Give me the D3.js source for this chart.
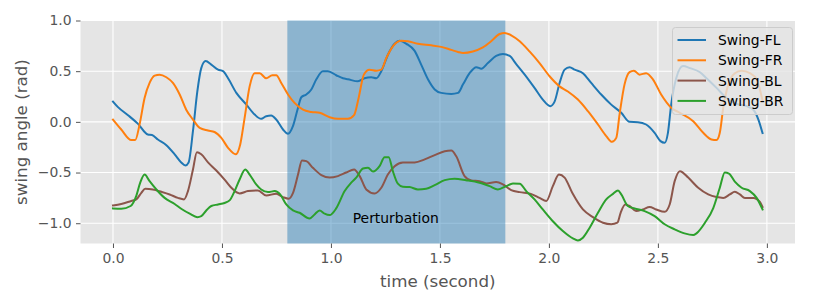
<!DOCTYPE html>
<html>
<head>
<meta charset="utf-8">
<script src="https://cdn.jsdelivr.net/npm/d3@7"></script>
<style>
  body { margin: 0; background: #fff; }
  svg { display: block; font-family: "DejaVu Sans", sans-serif; }
</style>
</head>
<body>
<svg id="chart" width="814" height="305"></svg>
<script>
// [time, angle] samples
var swingFL = [[0,0.20],[0.023,0.145],[0.069,0.066],[0.115,-0.02],[0.16,-0.125],[0.179,-0.13],[0.206,-0.174],[0.245,-0.23],[0.283,-0.32],[0.313,-0.40],[0.332,-0.43],[0.347,-0.40],[0.367,-0.09],[0.387,0.30],[0.405,0.53],[0.425,0.60],[0.451,0.565],[0.482,0.515],[0.505,0.50],[0.528,0.43],[0.566,0.286],[0.612,0.17],[0.65,0.072],[0.68,0.03],[0.703,0.056],[0.726,0.062],[0.749,0.023],[0.78,-0.075],[0.803,-0.118],[0.826,-0.04],[0.849,0.14],[0.864,0.243],[0.887,0.27],[0.91,0.32],[0.933,0.42],[0.963,0.50],[0.986,0.50],[1.024,0.46],[1.055,0.43],[1.078,0.42],[1.124,0.40],[1.154,0.43],[1.185,0.44],[1.208,0.43],[1.231,0.50],[1.261,0.66],[1.292,0.77],[1.315,0.80],[1.346,0.77],[1.384,0.70],[1.414,0.565],[1.445,0.42],[1.476,0.32],[1.506,0.286],[1.552,0.276],[1.583,0.286],[1.606,0.37],[1.636,0.48],[1.667,0.54],[1.69,0.525],[1.72,0.58],[1.758,0.65],[1.789,0.67],[1.82,0.65],[1.85,0.57],[1.889,0.466],[1.934,0.335],[1.972,0.22],[2.006,0.155],[2.026,0.20],[2.049,0.384],[2.072,0.515],[2.095,0.54],[2.118,0.515],[2.156,0.48],[2.194,0.384],[2.24,0.27],[2.286,0.17],[2.332,0.089],[2.37,0.0],[2.408,-0.003],[2.446,-0.026],[2.485,-0.108],[2.512,-0.19],[2.531,-0.207],[2.546,-0.108],[2.561,0.17],[2.584,0.43],[2.615,0.55],[2.647,0.53],[2.693,0.49],[2.723,0.43],[2.769,0.335],[2.815,0.236],[2.861,0.177],[2.907,0.155],[2.938,0.12],[2.961,0.023],[2.98,-0.11]];
var swingFR = [[0,0.023],[0.038,-0.075],[0.084,-0.18],[0.102,-0.18],[0.122,-0.026],[0.145,0.236],[0.168,0.384],[0.191,0.456],[0.214,0.466],[0.245,0.44],[0.275,0.384],[0.306,0.27],[0.336,0.12],[0.367,0.023],[0.398,-0.06],[0.436,-0.085],[0.466,-0.10],[0.497,-0.158],[0.528,-0.256],[0.563,-0.32],[0.584,-0.22],[0.604,0.04],[0.627,0.35],[0.65,0.48],[0.673,0.48],[0.703,0.43],[0.731,0.46],[0.749,0.46],[0.772,0.384],[0.803,0.27],[0.833,0.187],[0.872,0.12],[0.91,0.098],[0.948,0.089],[0.994,0.046],[1.032,0.03],[1.078,0.03],[1.106,0.066],[1.127,0.236],[1.151,0.466],[1.177,0.515],[1.208,0.505],[1.231,0.515],[1.254,0.63],[1.284,0.745],[1.323,0.80],[1.353,0.795],[1.399,0.77],[1.46,0.755],[1.506,0.74],[1.552,0.71],[1.583,0.69],[1.606,0.68],[1.651,0.695],[1.697,0.735],[1.735,0.795],[1.774,0.867],[1.797,0.877],[1.827,0.854],[1.866,0.795],[1.911,0.695],[1.957,0.58],[2.003,0.45],[2.049,0.35],[2.087,0.30],[2.133,0.22],[2.179,0.105],[2.225,-0.026],[2.263,-0.14],[2.289,-0.197],[2.309,-0.158],[2.324,0.072],[2.347,0.37],[2.37,0.49],[2.39,0.505],[2.416,0.466],[2.446,0.48],[2.477,0.42],[2.515,0.27],[2.561,0.14],[2.601,0.089],[2.662,0.007],[2.708,-0.108],[2.746,-0.174],[2.769,-0.18],[2.784,-0.108],[2.80,0.14],[2.823,0.37],[2.853,0.48],[2.884,0.505],[2.922,0.48],[2.953,0.42],[2.98,0.21]];
var swingBL = [[0,-0.824],[0.038,-0.81],[0.084,-0.78],[0.107,-0.765],[0.13,-0.70],[0.148,-0.66],[0.183,-0.667],[0.222,-0.69],[0.26,-0.716],[0.298,-0.75],[0.326,-0.765],[0.344,-0.683],[0.367,-0.47],[0.385,-0.30],[0.405,-0.32],[0.436,-0.40],[0.474,-0.48],[0.512,-0.57],[0.543,-0.65],[0.581,-0.706],[0.619,-0.683],[0.665,-0.676],[0.703,-0.726],[0.749,-0.71],[0.78,-0.742],[0.806,-0.758],[0.826,-0.70],[0.849,-0.52],[0.867,-0.38],[0.887,-0.387],[0.917,-0.453],[0.956,-0.525],[0.994,-0.55],[1.032,-0.535],[1.07,-0.50],[1.106,-0.47],[1.132,-0.535],[1.162,-0.667],[1.20,-0.706],[1.231,-0.65],[1.261,-0.52],[1.292,-0.437],[1.33,-0.40],[1.384,-0.40],[1.43,-0.37],[1.476,-0.328],[1.522,-0.29],[1.552,-0.283],[1.575,-0.34],[1.613,-0.535],[1.644,-0.578],[1.682,-0.585],[1.713,-0.607],[1.758,-0.594],[1.789,-0.617],[1.827,-0.673],[1.866,-0.693],[1.917,-0.71],[1.957,-0.75],[1.988,-0.78],[2.018,-0.634],[2.046,-0.52],[2.072,-0.55],[2.107,-0.70],[2.156,-0.864],[2.202,-0.94],[2.248,-0.995],[2.286,-1.01],[2.314,-0.995],[2.329,-0.897],[2.35,-0.815],[2.37,-0.83],[2.40,-0.88],[2.431,-0.864],[2.462,-0.84],[2.492,-0.864],[2.531,-0.887],[2.554,-0.815],[2.577,-0.585],[2.601,-0.486],[2.639,-0.55],[2.685,-0.65],[2.731,-0.716],[2.769,-0.742],[2.80,-0.75],[2.83,-0.716],[2.853,-0.69],[2.876,-0.716],[2.899,-0.75],[2.938,-0.75],[2.968,-0.79],[2.98,-0.84]];
var swingBR = [[0,-0.854],[0.038,-0.857],[0.081,-0.83],[0.107,-0.73],[0.125,-0.60],[0.145,-0.52],[0.168,-0.585],[0.199,-0.667],[0.237,-0.75],[0.283,-0.81],[0.313,-0.857],[0.352,-0.906],[0.387,-0.94],[0.405,-0.93],[0.428,-0.874],[0.451,-0.83],[0.482,-0.815],[0.512,-0.80],[0.535,-0.775],[0.558,-0.683],[0.581,-0.568],[0.607,-0.47],[0.627,-0.52],[0.657,-0.617],[0.68,-0.667],[0.711,-0.693],[0.742,-0.683],[0.767,-0.716],[0.795,-0.815],[0.826,-0.874],[0.856,-0.897],[0.902,-0.953],[0.925,-0.913],[0.948,-0.874],[0.971,-0.906],[0.994,-0.92],[1.024,-0.854],[1.063,-0.683],[1.093,-0.60],[1.116,-0.55],[1.147,-0.46],[1.17,-0.453],[1.193,-0.49],[1.223,-0.437],[1.246,-0.348],[1.265,-0.348],[1.284,-0.486],[1.307,-0.61],[1.33,-0.64],[1.361,-0.643],[1.399,-0.667],[1.437,-0.66],[1.476,-0.624],[1.522,-0.575],[1.567,-0.56],[1.62,-0.575],[1.682,-0.60],[1.728,-0.634],[1.766,-0.667],[1.804,-0.634],[1.835,-0.607],[1.866,-0.61],[1.896,-0.683],[1.934,-0.765],[1.972,-0.864],[2.018,-0.98],[2.064,-1.077],[2.11,-1.15],[2.133,-1.17],[2.156,-1.143],[2.187,-1.044],[2.225,-0.897],[2.263,-0.765],[2.294,-0.71],[2.317,-0.676],[2.332,-0.716],[2.362,-0.83],[2.393,-0.854],[2.439,-0.88],[2.485,-0.93],[2.531,-1.01],[2.577,-1.06],[2.622,-1.10],[2.662,-1.117],[2.677,-1.10],[2.716,-0.995],[2.754,-0.85],[2.784,-0.65],[2.807,-0.50],[2.826,-0.51],[2.853,-0.59],[2.884,-0.65],[2.922,-0.683],[2.953,-0.75],[2.98,-0.864]];

var seriesNames = ["Swing-FL", "Swing-FR", "Swing-BL", "Swing-BR"];
var seriesData = [swingFL, swingFR, swingBL, swingBR];
var seriesColors = ["#1f77b4", "#ff7f0e", "#8c564b", "#2ca02c"];

var xTicks = [0, 0.5, 1.0, 1.5, 2.0, 2.5, 3.0];
var yTicks = [-1.0, -0.5, 0.0, 0.5, 1.0];
var perturbSpan = [0.8, 1.8];
var perturbLabel = {t: 1.1, v: -1.0, text: "Perturbation"};

var svg = d3.select("#chart");
var L = 80.5, R = 795, T = 20.5, B = 243.5;

var x = d3.scaleLinear().domain([-0.149, 3.129]).range([L, R]);
var y = d3.scaleLinear().domain([-1.2, 1.0]).range([B, T]);
var fmt = d3.format(".1f");

svg.append("rect").attr("x", L).attr("y", T).attr("width", R - L).attr("height", B - T).attr("fill", "#e5e5e5");

// grid
svg.append("g").selectAll("line").data(xTicks).enter().append("line")
    .attr("x1", function(d){ return x(d); }).attr("x2", function(d){ return x(d); })
    .attr("y1", T).attr("y2", B).attr("stroke", "#fff").attr("stroke-width", 1.1);
svg.append("g").selectAll("line").data(yTicks).enter().append("line")
    .attr("y1", function(d){ return y(d); }).attr("y2", function(d){ return y(d); })
    .attr("x1", L).attr("x2", R).attr("stroke", "#fff").attr("stroke-width", 1.1);

// perturbation window
svg.append("rect")
    .attr("x", x(perturbSpan[0])).attr("width", x(perturbSpan[1]) - x(perturbSpan[0]))
    .attr("y", T).attr("height", B - T)
    .attr("fill", "#1f77b4").attr("fill-opacity", 0.45);

// axes
var xAxis = d3.axisBottom(x).tickValues(xTicks).tickFormat(fmt).tickSize(4.5).tickPadding(5);
var yAxis = d3.axisLeft(y).tickValues(yTicks).tickFormat(fmt).tickSize(4.5).tickPadding(4.5);
var gx = svg.append("g").attr("transform", "translate(0," + B + ")").call(xAxis);
var gy = svg.append("g").attr("transform", "translate(" + L + ",0)").call(yAxis);
[gx, gy].forEach(function(g){
    g.select(".domain").remove();
    g.selectAll(".tick line").attr("stroke", "#555555").attr("stroke-width", 1);
    g.selectAll(".tick text").attr("fill", "#555555").style("font-size", "13.9px").style("font-family", "DejaVu Sans");
});

svg.append("text").attr("x", (L + R) / 2).attr("y", 287).attr("text-anchor", "middle")
    .attr("fill", "#555555").style("font-size", "16.7px").text("time (second)");
svg.append("text").attr("transform", "translate(27," + ((T + B) / 2) + ") rotate(-90)")
    .attr("text-anchor", "middle").attr("fill", "#555555").style("font-size", "16.7px").text("swing angle (rad)");

// lines
var line = d3.line().x(function(d){ return x(d[0]); }).y(function(d){ return y(d[1]); }).curve(d3.curveMonotoneX);
svg.append("g").selectAll("path").data(seriesData).enter().append("path")
    .attr("d", line).attr("fill", "none")
    .attr("stroke", function(d, i){ return seriesColors[i]; })
    .attr("stroke-width", 2).attr("stroke-linejoin", "round").attr("stroke-linecap", "square");

svg.append("text").attr("x", x(perturbLabel.t)).attr("y", y(perturbLabel.v))
    .attr("fill", "#000").style("font-size", "13.9px").text(perturbLabel.text);

// legend
var lg = svg.append("g").attr("transform", "translate(672.5,27.5)");
lg.append("rect").attr("width", 120).attr("height", 87).attr("rx", 3)
    .attr("fill", "#e5e5e5").attr("fill-opacity", 0.8).attr("stroke", "#cccccc").attr("stroke-width", 1);
var items = lg.selectAll("g.item").data(seriesNames).enter().append("g")
    .attr("transform", function(d, i){ return "translate(0," + (12.5 + i * 20.3) + ")"; });
items.append("line").attr("x1", 5).attr("x2", 33.5).attr("y1", 0).attr("y2", 0)
    .attr("stroke", function(d, i){ return seriesColors[i]; }).attr("stroke-width", 2);
items.append("text").attr("x", 45.5).attr("y", 5).attr("fill", "#000").style("font-size", "13.9px")
    .text(function(d){ return d; });
</script>
</body>
</html>
